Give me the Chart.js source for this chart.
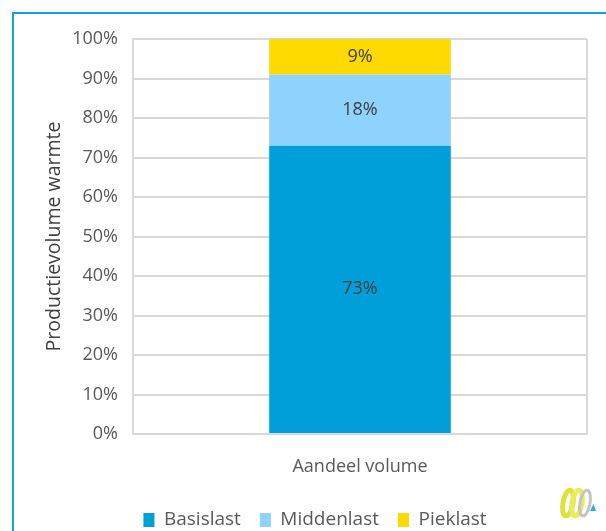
<!DOCTYPE html>
<html lang="nl">
<head>
    <meta charset="UTF-8">
    <title>Productievolume warmte</title>
    <script src="https://cdn.jsdelivr.net/npm/chart.js"></script>
    <style>
        body { margin: 0; overflow: hidden; background: #fff; }
        #frame {
            position: absolute; left: 12px; top: 12px; right: 0; bottom: 0;
            border-top: 2px solid #14a0d8; border-left: 2px solid #14a0d8;
        }
        #wrap { position: absolute; left: 0; top: 0; width: 606px; height: 560px; }
        #logo { position: absolute; left: 556px; top: 482px; }
    </style>
</head>
<body>
    <div id="frame"></div>
    <div id="wrap"><canvas id="chartCanvas"></canvas></div>

    <!-- klein logo rechtsonder -->
    <svg id="logo" width="46" height="42" viewBox="0 0 46 42">
        <ellipse cx="12" cy="21" rx="5" ry="13" fill="none" stroke="#dfe23c" stroke-width="5" transform="rotate(10 12 21)"/>
        <ellipse cx="21" cy="21" rx="5" ry="13" fill="none" stroke="#e9ec5c" stroke-width="5" transform="rotate(10 21 21)"/>
        <ellipse cx="29" cy="21" rx="5" ry="13" fill="none" stroke="#c4c4c4" stroke-width="3" transform="rotate(10 29 21)"/>
        <polygon points="34,29 40,29 37.5,22" fill="#2ab0d8"/>
    </svg>

    <script>
        // Data
        const categories = ['Aandeel volume'];
        const seriesNames = ['Basislast', 'Middenlast', 'Pieklast'];
        const basislast = [73];
        const middenlast = [18];
        const pieklast = [9];
        const yTicks = [0, 10, 20, 30, 40, 50, 60, 70, 80, 90, 100];

        const colors = ['#009fda', '#8dd3fe', '#ffda00'];
        const fontFamily = '"Open Sans", sans-serif';

        // Labels midden in de balkdelen
        const barLabels = {
            id: 'barLabels',
            afterDatasetsDraw(chart) {
                const ctx = chart.ctx;
                ctx.save();
                ctx.font = '18px ' + fontFamily;
                ctx.fillStyle = '#404040';
                ctx.textAlign = 'center';
                ctx.textBaseline = 'middle';
                chart.data.datasets.forEach((ds, i) => {
                    chart.getDatasetMeta(i).data.forEach((bar, j) => {
                        const p = bar.getProps(['x', 'y', 'base'], true);
                        ctx.fillText(ds.data[j] + '%', p.x, (p.y + p.base) / 2);
                    });
                });
                ctx.restore();
            }
        };

        const gridColor = '#d9d9d9';
        const padLeft = 43;

        new Chart(document.getElementById('chartCanvas'), {
            type: 'bar',
            data: {
                labels: categories,
                datasets: [
                    { label: seriesNames[0], data: basislast, backgroundColor: colors[0] },
                    { label: seriesNames[1], data: middenlast, backgroundColor: colors[1] },
                    { label: seriesNames[2], data: pieklast, backgroundColor: colors[2] }
                ]
            },
            options: {
                responsive: true,
                maintainAspectRatio: false,
                animation: false,
                categoryPercentage: 0.4,
                barPercentage: 1,
                layout: { padding: { top: 39, right: 19, left: padLeft, bottom: 20.5 } },
                scales: {
                    x: {
                        stacked: true,
                        grid: { color: gridColor, lineWidth: 2, drawTicks: false },
                        border: { color: gridColor, width: 2 },
                        ticks: { color: '#595959', padding: 22, font: { size: 18, family: fontFamily } },
                        afterFit(scale) { scale.height = 57.5; }
                    },
                    y: {
                        stacked: true,
                        min: 0,
                        max: 100,
                        afterBuildTicks(scale) { scale.ticks = yTicks.map(v => ({ value: v })); },
                        grid: { color: gridColor, lineWidth: 2, drawTicks: false },
                        border: { color: gridColor, width: 2 },
                        ticks: {
                            color: '#595959',
                            padding: 15,
                            font: { size: 18, family: fontFamily },
                            callback: v => v + '%'
                        },
                        title: {
                            display: true,
                            text: 'Productievolume warmte',
                            color: '#404040',
                            padding: { top: 0, bottom: 0 },
                            font: { size: 19.5, family: fontFamily }
                        },
                        afterFit(scale) { scale.width = 133 - padLeft; }
                    }
                },
                plugins: {
                    legend: {
                        position: 'bottom',
                        labels: {
                            color: '#595959',
                            boxWidth: 11,
                            boxHeight: 14,
                            padding: 19,
                            font: { size: 19, family: fontFamily }
                        }
                    },
                    tooltip: { enabled: false }
                }
            },
            plugins: [barLabels]
        });
    </script>
</body>
</html>
